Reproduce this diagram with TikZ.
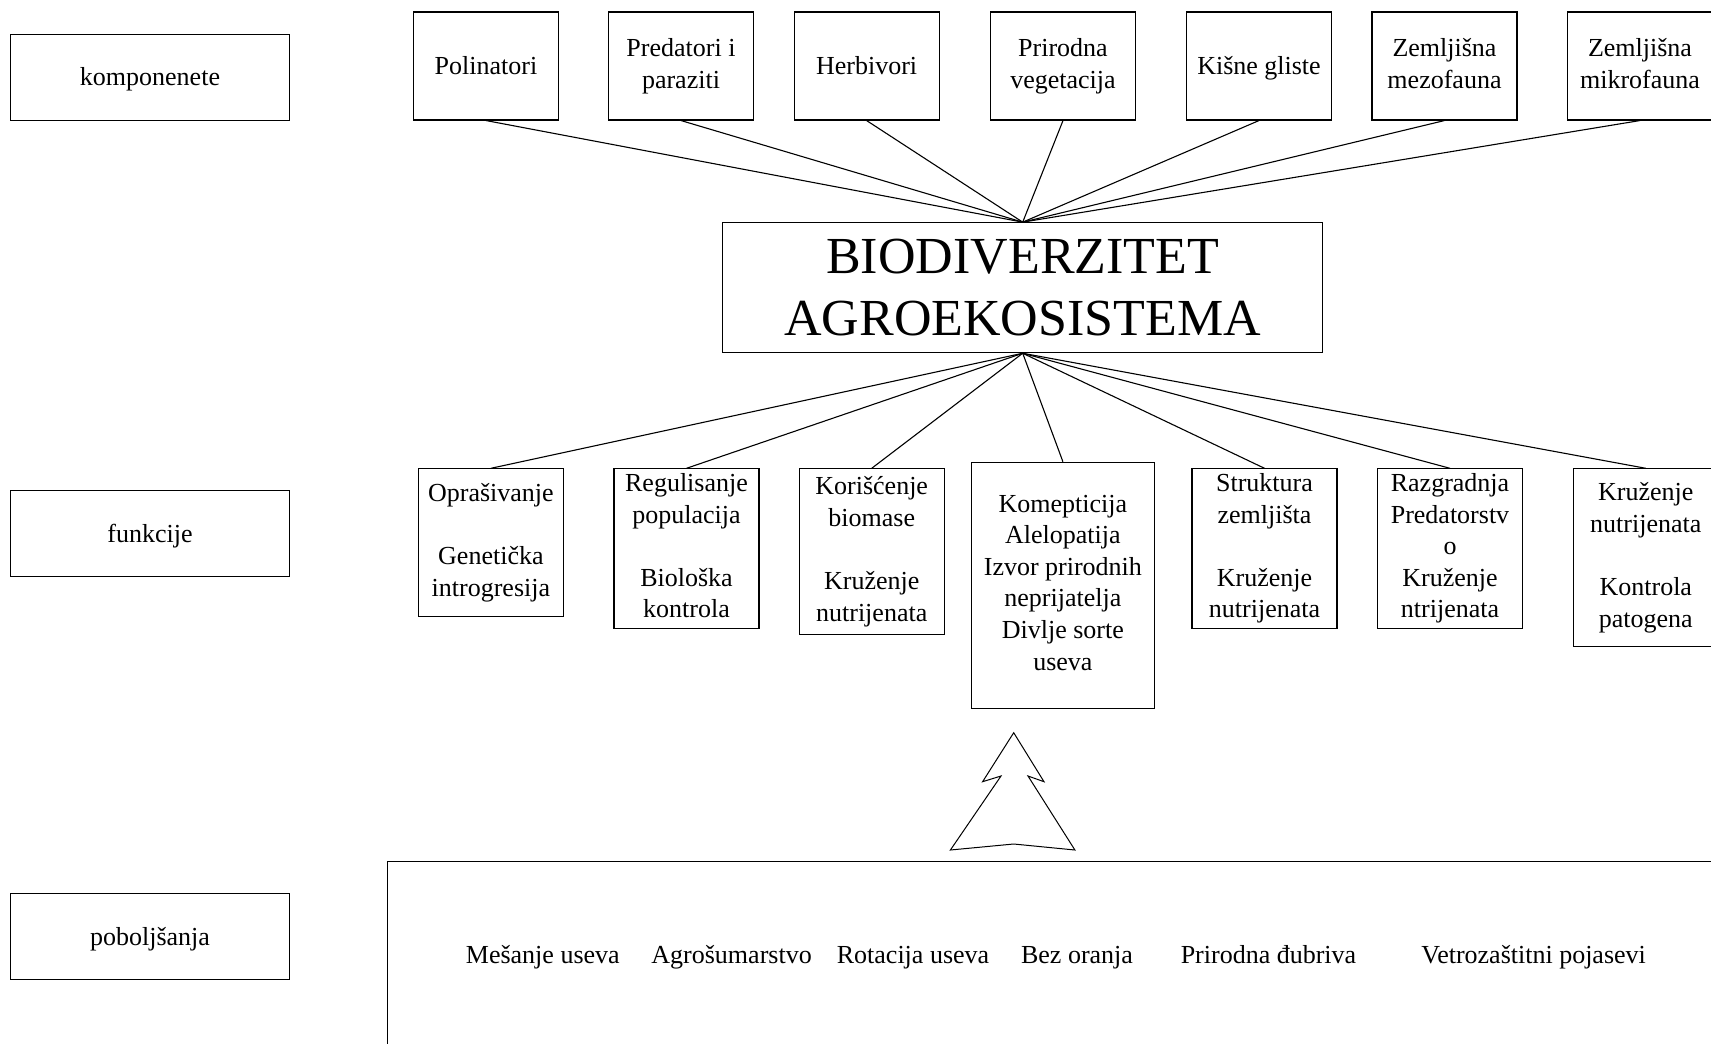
\documentclass[tikz,border=0pt]{standalone}
\usepackage{fontspec}
\setmainfont{Liberation Serif}
\begin{document}
\begin{tikzpicture}[x=1pt,y=-1pt,line width=1.1pt,
        caja/.style={draw,rectangle,inner sep=0pt,align=center,font=\fontsize{26}{31.6}\selectfont,
            execute at begin node={\rule{0pt}{23pt}},execute at end node={\rule[-5.6pt]{0pt}{0pt}}},
        naslov/.style={draw,rectangle,inner sep=0pt,align=center,font=\fontsize{52}{62}\selectfont},
        texto/.style={inner sep=0pt,anchor=base,font=\fontsize{26}{31.6}\selectfont}]
        \useasboundingbox (0,0) rectangle (1711,1044);

        % Etikete levo
        \node[caja,minimum width=278.7,minimum height=86] (lab1) at (150,77.2) {komponenete};
        \node[caja,minimum width=278.7,minimum height=86] (lab2) at (150,533.6) {funkcije};
        \node[caja,minimum width=278.7,minimum height=86] (lab3) at (150,936.8) {poboljšanja};

        % Komponente
        \foreach \i/\x/\txt in {1/486/Polinatori,2/681/{Predatori i\\paraziti},3/866.6/Herbivori,
            4/1063/{Prirodna\\vegetacija},5/1259/{Kišne gliste},6/1444.5/{Zemljišna\\mezofauna},
            7/1640/{Zemljišna\\mikrofauna}}
        \node[caja,minimum width=145,minimum height=108] (comp\i) at (\x,66) {\txt};

        % Centar
        \node[naslov,minimum width=600,minimum height=130] (bio) at (1022.7,287.7) {BIODIVERZITET\\AGROEKOSISTEMA};

        % Funkcije
        \foreach \i/\x/\y/\w/\h/\txt in {1/490.9/468.3/145/147.4/{Oprašivanje\\~\\Genetička\\introgresija},
            2/686.5/468.3/145/159.4/{Regulisanje\\populacija\\~\\Biološka\\kontrola},
            3/871.7/468.3/145/166/{Korišćenje\\biomase\\~\\Kruženje\\nutrijenata},
            4/1062.9/461.7/183.7/246/{Komepticija\\Alelopatija\\Izvor prirodnih\\neprijatelja\\Divlje sorte\\useva},
            5/1264.5/468.3/145/159.4/{Struktura\\zemljišta\\~\\Kruženje\\nutrijenata},
            6/1450/468.3/145/159.4/{Razgradnja\\Predatorstv\\o\\Kruženje\\ntrijenata},
            7/1645.8/468.3/145/177.7/{Kruženje\\nutrijenata\\~\\Kontrola\\patogena}}
        \node[caja,anchor=north,minimum width=\w,minimum height=\h] (func\i) at (\x,\y) {\txt};

        % Linije
        \foreach \i in {1,...,7}
        \draw (comp\i.south) -- (bio.north);
        \foreach \i in {1,...,7}
        \draw (bio.south) -- (func\i.north);

        % Strelica (drvo)
        \draw[line width=1pt] (1013.7,732.7) -- (1044,781.7) -- (1028,776) -- (1074.9,850) -- (1013.7,844)
            -- (950.4,850) -- (1001,776) -- (982.6,781.7) -- cycle;

        % Poboljsanja
        \draw (1720,861.7) -| (387.7,1054);
        \foreach \i/\x/\txt in {1/542.8/Mešanje useva,2/731.6/Agrošumarstvo,3/913/Rotacija useva,
            4/1077/Bez oranja,5/1268.5/Prirodna đubriva,6/1533.6/Vetrozaštitni pojasevi}
        \node[texto] (mera\i) at (\x,963) {\txt};
\end{tikzpicture}
\end{document}
